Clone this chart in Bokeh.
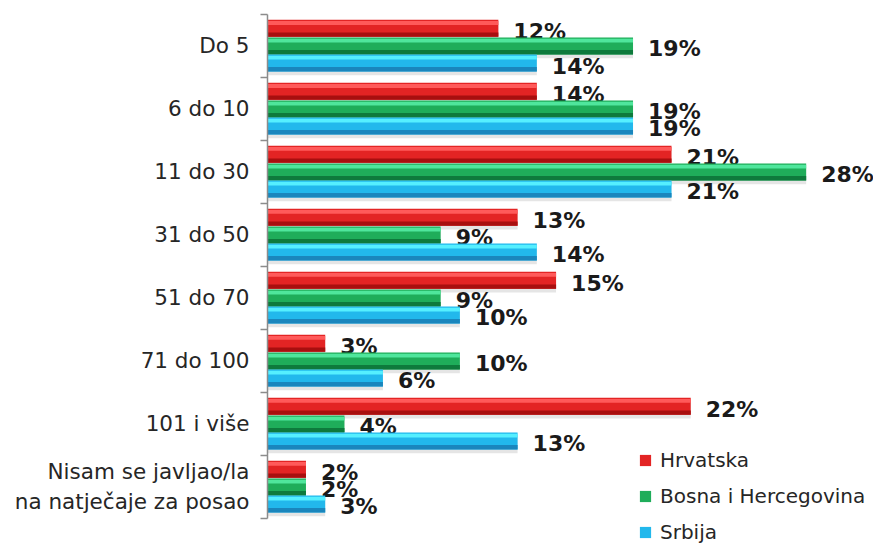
from bokeh.plotting import figure
from bokeh.models import (ColumnDataSource, Range1d, LinearAxis, FixedTicker,
                          Legend, LegendItem)
from bokeh.core.properties import value
from bokeh.embed import file_html
from bokeh.resources import INLINE

categories = ["Do 5", "6 do 10", "11 do 30", "31 do 50", "51 do 70", "71 do 100",
              "101 i više", "Nisam se javljao/la\nna natječaje za posao"]
series_names = ["Hrvatska", "Bosna i Hercegovina", "Srbija"]
hrvatska = [12, 14, 21, 13, 15, 3, 22, 2]
bih = [19, 19, 28, 9, 9, 10, 4, 2]
srbija = [14, 19, 21, 14, 10, 6, 13, 3]

series_values = [hrvatska, bih, srbija]
mid_colors = ["#e32424", "#1fad5a", "#22b8ec"]
light_colors = ["#ff5a5a", "#4fe69c", "#55efff"]
dark_colors = ["#a80f0f", "#0e7a3c", "#1a86bd"]
offsets = [0.28, 0.0, -0.27]
bar_h = 0.27

n = len(categories)
# category i (top to bottom) is centred at n - 0.5 - i on a 0..n scale
centers = [n - 0.5 - i for i in range(n)]

p = figure(width=873, height=545, output_backend="svg", toolbar_location=None,
           y_range=Range1d(-0.43, n), x_range=Range1d(0, 31.5),
           x_axis_location=None, y_axis_location=None,
           min_border_left=267, min_border_right=0, min_border_top=14, min_border_bottom=0)
p.outline_line_color = None
p.xgrid.visible = False
p.ygrid.visible = False
p.background_fill_color = "white"
p.border_fill_color = "white"

ticker = FixedTicker(ticks=centers, minor_ticks=list(range(n + 1)))
ax = LinearAxis(ticker=ticker, bounds=(0, n))
ax.major_label_overrides = {c: categories[i] for i, c in enumerate(centers)}
ax.major_tick_out = 0
ax.major_tick_in = 0
ax.minor_tick_out = 7
ax.minor_tick_in = 0
ax.minor_tick_line_color = "#8c8c8c"
ax.minor_tick_line_width = 1.5
ax.axis_line_color = "#8c8c8c"
ax.axis_line_width = 1.5
ax.major_label_text_font = "DejaVu Sans"
ax.major_label_text_font_size = "21.5px"
ax.major_label_text_color = "#262626"
ax.major_label_standoff = 11
p.add_layout(ax, "left")

items = []
for k in range(3):
    vals = series_values[k]
    off = offsets[k]
    ys = [c + off for c in centers]
    src = ColumnDataSource(dict(y=ys, val=vals, lbl=[f"{v}%" for v in vals],
                                ysh=[y - 0.06 for y in ys],
                                yhi=[y + 0.085 for y in ys],
                                ylo=[y - 0.10 for y in ys]))
    p.hbar(y="ysh", left=0, right="val", height=bar_h, source=src,
           fill_color="black", fill_alpha=0.10, line_color=None)
    base = p.hbar(y="y", left=0, right="val", height=bar_h, source=src,
                  fill_color=mid_colors[k], line_color=None)
    p.hbar(y="yhi", left=0, right="val", height=0.06, source=src,
           fill_color=light_colors[k], line_color=None)
    p.hbar(y="ylo", left=0, right="val", height=0.07, source=src,
           fill_color=dark_colors[k], line_color=None)
    p.text(x="val", y="y", text="lbl", source=src,
           x_offset=15, y_offset=3, text_align="left", text_baseline="middle",
           text_font=value("DejaVu Sans"), text_font_style="bold",
           text_font_size="22px", text_color="#1a1a1a")
    items.append(LegendItem(label=series_names[k], renderers=[base]))

legend = Legend(items=items, location=(371, 1), orientation="vertical",
                glyph_width=14, glyph_height=14, label_standoff=8, spacing=12,
                padding=0, margin=0, border_line_color=None, background_fill_alpha=0,
                label_text_font="DejaVu Sans", label_text_font_size="20px",
                label_text_color="#262626")
p.add_layout(legend, "center")

open("out.html", "w").write(file_html(p, INLINE))
